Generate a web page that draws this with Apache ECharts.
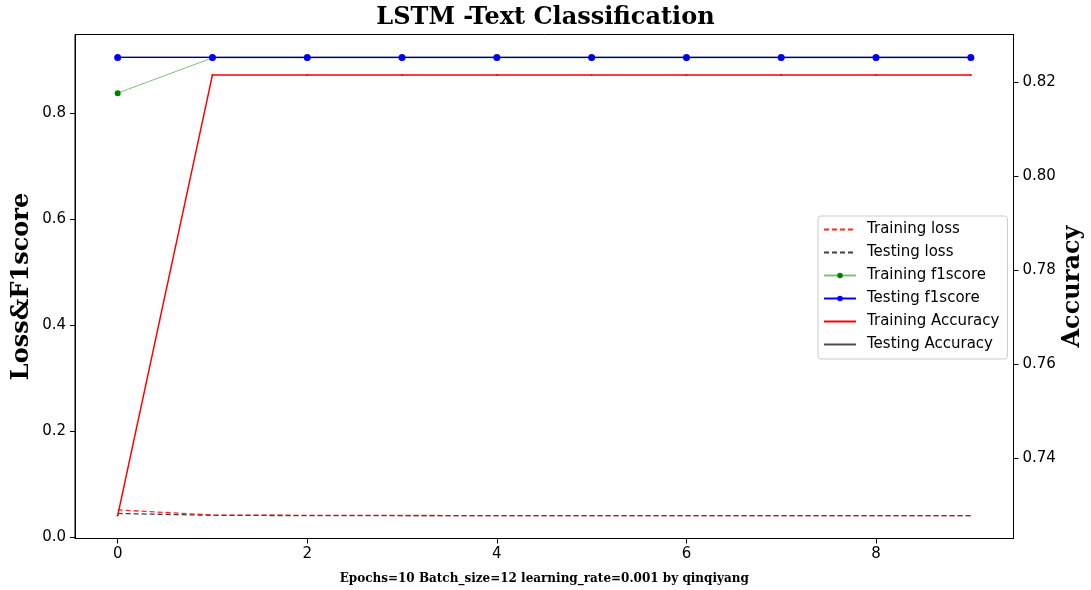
<!DOCTYPE html>
<html>
<head>
<meta charset="utf-8">
<script src="https://cdn.jsdelivr.net/npm/echarts@6/dist/echarts.min.js"></script>
<style>html,body{margin:0;padding:0;background:#fff}#c{width:1091px;height:590px}</style>
</head>
<body>
<div id="c"></div>
<script>
const epochs = [0, 1, 2, 3, 4, 5, 6, 7, 8, 9];
const trainLoss = [0.0508, 0.0410, 0.0405, 0.0402, 0.0400, 0.0400, 0.0400, 0.0400, 0.0400, 0.0400];
const testLoss = [0.0440, 0.0405, 0.0400, 0.0400, 0.0400, 0.0400, 0.0400, 0.0400, 0.0400, 0.0400];
const trainF1 = [0.8383, 0.9050, 0.9050, 0.9050, 0.9050, 0.9050, 0.9050, 0.9050, 0.9050, 0.9050];
const testF1 = [0.9058, 0.9058, 0.9058, 0.9058, 0.9058, 0.9058, 0.9058, 0.9058, 0.9058, 0.9058];
const trainAcc = [0.72785, 0.82153, 0.82153, 0.82153, 0.82153, 0.82153, 0.82153, 0.82153, 0.82153, 0.82153];
const testAcc = [0.82525, 0.82525, 0.82525, 0.82525, 0.82525, 0.82525, 0.82525, 0.82525, 0.82525, 0.82525];
const xTicks = [0, 2, 4, 6, 8];
const leftTicks = [0.0, 0.2, 0.4, 0.6, 0.8];
const rightTicks = [0.74, 0.76, 0.78, 0.80, 0.82];

const pairs = arr => epochs.map((e, i) => [e, arr[i]]);
const tickFont = {fontFamily: 'DejaVu Sans', fontSize: 15, color: '#000'};
const nameFont = {fontFamily: 'DejaVu Serif', fontWeight: 'bold', fontSize: 24, color: '#000'};
const noSym = {opacity: 0};

const chart = echarts.init(document.getElementById('c'), null, {renderer: 'canvas'});
chart.setOption({
  animation: false,
  backgroundColor: '#fff',
  title: {
    text: 'LSTM -Text Classification', left: 'center', top: 6, padding: 0,
    textStyle: {fontFamily: 'DejaVu Serif', fontWeight: 'bold', fontSize: 24, color: '#000'}
  },
  grid: {left: 75, right: 77.5, top: 34.5, bottom: 51.5, show: true, borderColor: '#000', borderWidth: 1,
         backgroundColor: 'transparent', containLabel: false, outerBoundsMode: 'none'},
  legend: {
    orient: 'vertical', left: 818, top: 216,
    itemWidth: 32, itemHeight: 7, itemGap: 8,
    padding: [6, 8, 7, 5],
    borderColor: '#cccccc', borderWidth: 1, borderRadius: 3, backgroundColor: 'rgba(255,255,255,0.8)',
    textStyle: {fontFamily: 'DejaVu Sans', fontSize: 15, color: '#000', padding: [0, 0, 0, 6]},
    data: [
      {name: 'Training loss', itemStyle: noSym},
      {name: 'Testing loss', itemStyle: noSym},
      {name: 'Training f1score'},
      {name: 'Testing f1score'},
      {name: 'Training Accuracy', itemStyle: noSym},
      {name: 'Testing Accuracy', itemStyle: noSym}
    ]
  },
  xAxis: {
    type: 'value', min: -0.45, max: 9.45,
    name: 'Epochs=10 Batch_size=12 learning_rate=0.001 by qinqiyang',
    nameLocation: 'middle', nameGap: 34,
    nameTextStyle: {fontFamily: 'DejaVu Serif', fontWeight: 'bold', fontSize: 12, color: '#000'},
    axisLine: {show: true, onZero: false, lineStyle: {color: '#000', width: 1}},
    axisTick: {show: true, inside: false, length: 5, customValues: xTicks, lineStyle: {color: '#000'}},
    axisLabel: {customValues: xTicks, margin: 8, ...tickFont},
    splitLine: {show: false}
  },
  yAxis: [{
    type: 'value', min: -0.0033, max: 0.9491, position: 'left',
    name: 'Loss&F1score', nameLocation: 'middle', nameGap: 41, nameRotate: 90, nameMoveOverlap: false,
    nameTextStyle: nameFont,
    axisLine: {show: true, onZero: false, lineStyle: {color: '#000', width: 1}},
    axisTick: {show: true, inside: false, length: 5, customValues: leftTicks, lineStyle: {color: '#000'}},
    axisLabel: {customValues: leftTicks, margin: 9, formatter: v => v.toFixed(1), ...tickFont},
    splitLine: {show: false}
  }, {
    type: 'value', min: 0.72298, max: 0.83012, position: 'right',
    name: 'Accuracy', nameLocation: 'middle', nameGap: 47, nameRotate: 90, nameMoveOverlap: false,
    nameTextStyle: nameFont,
    axisLine: {show: true, onZero: false, lineStyle: {color: '#000', width: 1}},
    axisTick: {show: true, inside: false, length: 5, customValues: rightTicks, lineStyle: {color: '#000'}},
    axisLabel: {customValues: rightTicks, margin: 9, formatter: v => v.toFixed(2), ...tickFont},
    splitLine: {show: false}
  }],
  series: [
    {name: 'Testing loss', type: 'line', yAxisIndex: 0, data: pairs(testLoss), symbol: 'none',
     lineStyle: {color: '#000', width: 1.3, type: [5, 3], opacity: 0.75}, itemStyle: {color: '#444'}},
    {name: 'Training loss', type: 'line', yAxisIndex: 0, data: pairs(trainLoss), symbol: 'none',
     lineStyle: {color: '#ff0000', width: 1.3, type: [5, 3], opacity: 0.85}, itemStyle: {color: '#ff0000'}},
    {name: 'Training f1score', type: 'line', yAxisIndex: 0, data: pairs(trainF1), symbol: 'circle', symbolSize: 6,
     lineStyle: {color: '#008000', width: 1, opacity: 0.5}, itemStyle: {color: '#008000'}},
    {name: 'Testing f1score', type: 'line', yAxisIndex: 0, data: pairs(testF1), symbol: 'circle', symbolSize: 7,
     lineStyle: {color: '#0000ff', width: 1.2}, itemStyle: {color: '#0000ff'}},
    {name: 'Testing Accuracy', type: 'line', yAxisIndex: 1, data: pairs(testAcc), symbol: 'circle', symbolSize: 2,
     lineStyle: {color: '#000', width: 1.2, opacity: 0.7}, itemStyle: {color: '#000', opacity: 0.5}},
    {name: 'Training Accuracy', type: 'line', yAxisIndex: 1, data: pairs(trainAcc), symbol: 'circle', symbolSize: 2,
     lineStyle: {color: '#ff0000', width: 1.5}, itemStyle: {color: '#ff0000'}}
  ]
});
</script>
</body>
</html>
